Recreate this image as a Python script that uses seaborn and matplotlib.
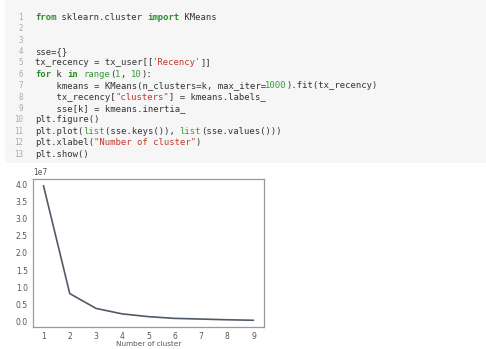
import matplotlib
matplotlib.use("Agg")
import matplotlib.pyplot as plt
import seaborn as sns
import pandas as pd
from matplotlib.patches import Rectangle

# ---- data ----
clusters = [1, 2, 3, 4, 5, 6, 7, 8, 9]
sse_values = [3.95e7, 0.82e7, 0.39e7, 0.23e7, 0.15e7, 0.10e7, 0.08e7, 0.06e7, 0.045e7]
y_ticks = [0.0, 0.5, 1.0, 1.5, 2.0, 2.5, 3.0, 3.5, 4.0]
x_label = "Number of cluster"

# code cell text: list of lines, each a list of (text, style)
K, S, N, T, B = "kw", "str", "num", "txt", "blt"
code_lines = [
    [("from", K), (" sklearn.cluster ", T), ("import", K), (" KMeans", T)],
    [],
    [],
    [("sse={}", T)],
    [("tx_recency = tx_user[[", T), ("'Recency'", S), ("]]", T)],
    [("for", K), (" k ", T), ("in", K), (" ", T), ("range", B), ("(", T), ("1", N), (", ", T), ("10", N), ("):", T)],
    [("    kmeans = KMeans(n_clusters=k, max_iter=", T), ("1000", N), (").fit(tx_recency)", T)],
    [("    tx_recency[", T), ('"clusters"', S), ("] = kmeans.labels_", T)],
    [("    sse[k] = kmeans.inertia_", T)],
    [("plt.figure()", T)],
    [("plt.plot(", T), ("list", B), ("(sse.keys()), ", T), ("list", B), ("(sse.values()))", T)],
    [("plt.xlabel(", T), ('"Number of cluster"', S), (")", T)],
    [("plt.show()", T)],
]
colors = {K: "#2e8b2e", S: "#c0392b", N: "#3a9a3a", T: "#333333", B: "#3a9a3a"}
weights = {K: "bold", S: "normal", N: "normal", T: "normal", B: "normal"}

W, H = 486, 349
fig = plt.figure(figsize=(W / 100, H / 100), dpi=100)
fig.patch.set_facecolor("white")

# code cell background
fig.patches.append(Rectangle((5 / W, 1 - 163 / H), (W - 5) / W, 163 / H,
                             transform=fig.transFigure, facecolor="#f6f6f6",
                             edgecolor="none", zorder=0))

cw = 5.35  # px per character
fs = cw / 0.602 * 72 / 100
y0, dy = 17.3, 11.4
for i, line in enumerate(code_lines):
    y = 1 - (y0 + i * dy) / H
    fig.text(23 / W, y, str(i + 1), ha="right", va="center", fontsize=fs * 0.85,
             family="DejaVu Sans Mono", color="#aaaaaa")
    col = 0
    for txt, sty in line:
        fig.text((35 + col * cw) / W, y, txt, ha="left", va="center", fontsize=fs,
                 family="DejaVu Sans Mono", color=colors[sty], fontweight=weights[sty])
        col += len(txt)

# plot
sns.set_style("white")
ax = fig.add_axes([33 / W, 1 - 327 / H, (264 - 33) / W, (327 - 179) / H])
df = pd.DataFrame({"k": clusters, "sse": sse_values})
sns.lineplot(data=df, x="k", y="sse", ax=ax, color="#4f5b66", linewidth=1.2)
ax.set_yticks([v * 1e7 for v in y_ticks])
ax.set_xticks(clusters)
ax.set_xlabel(x_label, fontsize=5.2, color="#555555", labelpad=0)
ax.set_ylabel("")
ax.tick_params(labelsize=5.5, colors="#555555", length=2.5, width=0.6, pad=1.2)
for sp in ax.spines.values():
    sp.set_color("#999999")
    sp.set_linewidth(0.9)
ax.yaxis.get_offset_text().set_fontsize(5.5)
ax.yaxis.get_offset_text().set_color("#555555")

fig.savefig("out.png", dpi=100)
